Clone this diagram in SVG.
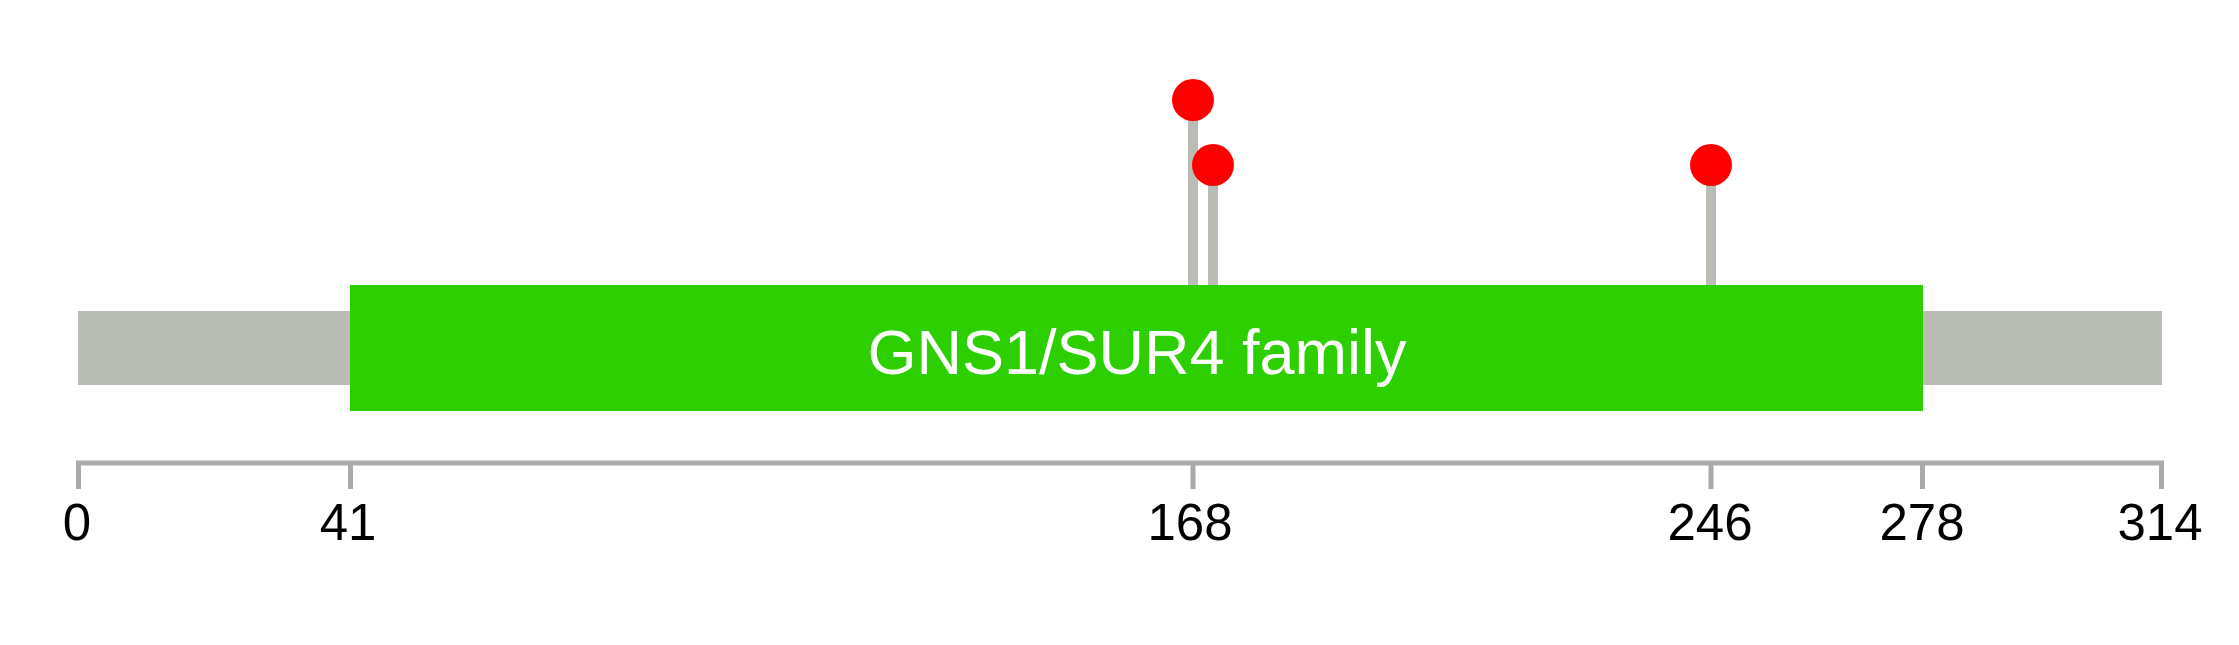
<svg xmlns="http://www.w3.org/2000/svg" width="2239" height="645" viewBox="0 0 2239 645">
<style>
.bg{fill:#ffffff}
.backbone{fill:#babdb6}
.domain{fill:#2ecf00}
.stem{stroke:#babdb6;stroke-width:10}
.head{fill:#ff0000}
.axis{stroke:#aaaaaa;stroke-width:5;fill:none}
.lbl{font-family:"Liberation Sans",Arial,sans-serif;font-size:51px;fill:#000000;text-anchor:middle}
.dlbl{font-family:"Liberation Sans",Arial,sans-serif;font-size:63px;fill:#ffffff;text-anchor:middle}
</style>
<rect class="bg" x="0" y="0" width="2239" height="645"/>
<g id="backbone"><rect class="backbone" x="78" y="311" width="2084" height="74"/></g>
<g id="connectors">
<line class="stem" x1="1193" y1="100" x2="1193" y2="286"/>
<line class="stem" x1="1213" y1="165" x2="1213" y2="286"/>
<line class="stem" x1="1711" y1="165" x2="1711" y2="286"/>
</g>
<g id="domain-gns1"><rect class="domain" x="350" y="285" width="1573" height="126"/><text class="dlbl" x="1137" y="374">GNS1/SUR4 family</text></g>
<g id="mut-168"><circle class="head" cx="1193" cy="100" r="21"/></g>
<g id="mut-171"><circle class="head" cx="1213" cy="165" r="21"/></g>
<g id="mut-246"><circle class="head" cx="1711" cy="165" r="21"/></g>
<g id="axis">
<path class="axis" d="M78.5 489 V463 H2161.5 V489"/>
<line class="axis" x1="350.5" y1="463" x2="350.5" y2="489"/>
<line class="axis" x1="1193" y1="463" x2="1193" y2="489"/>
<line class="axis" x1="1711" y1="463" x2="1711" y2="489"/>
<line class="axis" x1="1922.5" y1="463" x2="1922.5" y2="489"/>
<text class="lbl" x="77" y="540">0</text>
<text class="lbl" x="348" y="540">41</text>
<text class="lbl" x="1190" y="540">168</text>
<text class="lbl" x="1710" y="540">246</text>
<text class="lbl" x="1922" y="540">278</text>
<text class="lbl" x="2160" y="540">314</text>
</g>
</svg>
